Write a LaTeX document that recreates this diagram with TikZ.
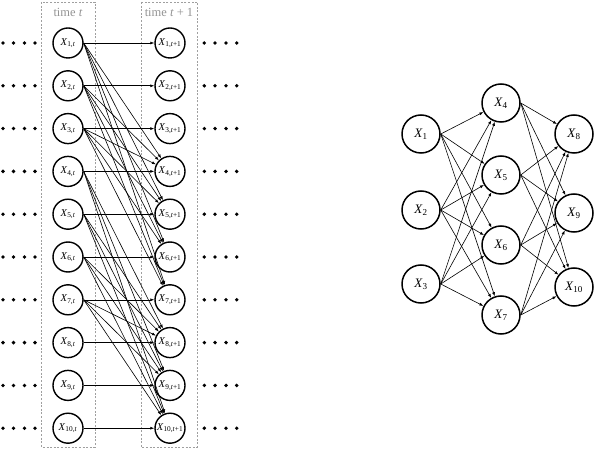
\documentclass[tikz,border=0pt]{standalone}
\usepackage{fontspec}
\setmainfont{Liberation Serif}
\usetikzlibrary{arrows.meta}
\newcommand\XX[2]{\textit{X}\textsubscript{#1,#2}}
\newcommand\XR[1]{\textit{X}\textsubscript{#1}}
\begin{document}
\begin{tikzpicture}[x=1bp,y=-1bp,
  lnode/.style={circle,draw,line width=1.4bp,minimum size=30bp,inner sep=0pt,fill=white,font=\fontsize{10.5}{12}\selectfont},
  rnode/.style={circle,draw,line width=1.5bp,minimum size=38bp,inner sep=0pt,fill=white,font=\fontsize{13}{15}\selectfont},
  edge/.style={-{Latex[length=4bp,width=3bp]},line width=0.6bp},
  dotnode/.style={circle,fill,inner sep=0pt,minimum size=3.8bp},
  tbox/.style={draw=gray!75,line width=0.9bp,dash pattern=on 2bp off 1.6bp},
  tlabel/.style={text=gray!85,font=\fontsize{12.5}{14}\selectfont}]
\useasboundingbox (0,0) rectangle (595,449);
% time boxes
\draw[tbox] (41.5,2) rectangle (95,447);
\draw[tbox] (141,2) rectangle (197.5,447);
\node[tlabel] (tl1) at (68,12.5) {time \textit{t}};
\node[tlabel] (tl2) at (169,12.5) {time \textit{t} + 1};
% left rows
\foreach \i in {1,...,10} {
  \pgfmathsetmacro\yy{43+(\i-1)*42.8}
  \node[lnode] (a\i) at (68,\yy) {\XX{\i}{\textit{t}}};
  \node[lnode] (b\i) at (170,\yy) {\XX{\i}{\textit{t}+1}};
  \foreach \k/\xx in {1/3,2/13.5,3/24.5,4/35} {
    \node[dotnode] (dl\i-\k) at (\xx,\yy) {};
  }
  \foreach \k/\xx in {1/204.3,2/215,3/226,4/236.7} {
    \node[dotnode] (dr\i-\k) at (\xx,\yy) {};
  }
}
\foreach \i in {1,...,10} \draw[edge] (a\i.east) -- (b\i);
\foreach \i in {1,2,3} \foreach \j in {4,...,7} \draw[edge] (a\i.east) -- (b\j);
\foreach \i in {4,...,7} \foreach \j in {8,9,10} \draw[edge] (a\i.east) -- (b\j);
% right graph
\node[rnode] (r1) at (421,134) {\XR{1}};
\node[rnode] (r2) at (421,210) {\XR{2}};
\node[rnode] (r3) at (421,284) {\XR{3}};
\node[rnode] (r4) at (501,103) {\XR{4}};
\node[rnode] (r5) at (501,175) {\XR{5}};
\node[rnode] (r6) at (501,245) {\XR{6}};
\node[rnode] (r7) at (501,315) {\XR{7}};
\node[rnode] (r8) at (574,134) {\XR{8}};
\node[rnode] (r9) at (574,213) {\XR{9}};
\node[rnode] (r10) at (574,287) {\XR{10}};
\foreach \i in {1,2,3} \foreach \j in {4,...,7} \draw[edge] (r\i.east) -- (r\j);
\foreach \i in {4,...,7} \foreach \j in {8,9,10} \draw[edge] (r\i.east) -- (r\j);
\end{tikzpicture}
\end{document}
